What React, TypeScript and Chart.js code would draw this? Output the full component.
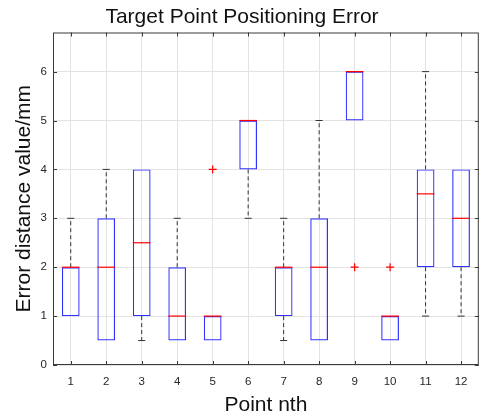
import React, { useEffect, useRef } from 'react';
import { Chart, registerables } from 'chart.js';

Chart.register(...registerables);

const categories = ['1', '2', '3', '4', '5', '6', '7', '8', '9', '10', '11', '12'];
const q1 = [1, 0.5, 1, 0.5, 0.5, 4, 1, 0.5, 5, 0.5, 2, 2];
const medians = [2, 2, 2.5, 1, 1, 5, 2, 2, 6, 1, 3.5, 3];
const q3 = [2, 3, 4, 2, 1, 5, 2, 3, 6, 1, 4, 4];
const whiskerLow = [1, 0.5, 0.5, 0.5, 0.5, 3, 0.5, 0.5, 5, 0.5, 1, 1];
const whiskerHigh = [3, 4, 4, 3, 1, 5, 3, 5, 6, 1, 6, 4];
const outliers: (number | null)[] = [null, null, null, null, 4, null, null, null, 2, 2, null, null];
const yTicks = [0, 1, 2, 3, 4, 5, 6];

const AXIS = '#3a3a3a';
const FONT = '"Liberation Sans", Arial, sans-serif';

const boxPlugin = {
  id: 'boxExtras',
  afterDatasetsDraw(chart: any) {
    const ctx = chart.ctx;
    const y = chart.scales.y;
    const meta = chart.getDatasetMeta(0);
    ctx.save();
    meta.data.forEach((bar: any, i: number) => {
      const cx = bar.x;
      const hw = bar.width / 2;
      const cap = hw / 2.5;
      ctx.strokeStyle = '#333';
      ctx.lineWidth = 1;
      const drawWhisker = (from: number, to: number) => {
        if (from === to) return;
        const y0 = y.getPixelForValue(from);
        const y1 = y.getPixelForValue(to);
        ctx.setLineDash([4, 3]);
        ctx.beginPath();
        ctx.moveTo(cx, y0);
        ctx.lineTo(cx, y1);
        ctx.stroke();
        ctx.setLineDash([]);
        ctx.beginPath();
        ctx.moveTo(cx - cap, y1);
        ctx.lineTo(cx + cap, y1);
        ctx.stroke();
      };
      drawWhisker(q3[i], whiskerHigh[i]);
      drawWhisker(q1[i], whiskerLow[i]);
      const my = y.getPixelForValue(medians[i]);
      ctx.strokeStyle = '#ff0000';
      ctx.lineWidth = 1.2;
      ctx.beginPath();
      ctx.moveTo(cx - hw, my);
      ctx.lineTo(cx + hw, my);
      ctx.stroke();
    });
    ctx.restore();
  },
  afterDraw(chart: any) {
    const ctx = chart.ctx;
    const { left, right, top, bottom } = chart.chartArea;
    const x = chart.scales.x;
    const y = chart.scales.y;
    ctx.save();
    ctx.strokeStyle = AXIS;
    ctx.lineWidth = 1;
    ctx.strokeRect(left + 0.5, top + 0.5, right - left - 1, bottom - top - 1);
    const tl = 4;
    ctx.beginPath();
    categories.forEach((_c, i) => {
      const px = Math.round(x.getPixelForValue(i)) + 0.5;
      ctx.moveTo(px, bottom);
      ctx.lineTo(px, bottom - tl);
      ctx.moveTo(px, top);
      ctx.lineTo(px, top + tl);
    });
    yTicks.forEach((v) => {
      const py = Math.round(y.getPixelForValue(v)) + 0.5;
      ctx.moveTo(left, py);
      ctx.lineTo(left + tl, py);
      ctx.moveTo(right, py);
      ctx.lineTo(right - tl, py);
    });
    ctx.stroke();
    ctx.restore();
  },
};

export default function App() {
  const ref = useRef<HTMLCanvasElement | null>(null);
  useEffect(() => {
    document.body.style.margin = '0';
    const chart = new Chart(ref.current as HTMLCanvasElement, {
      type: 'bar',
      data: {
        labels: categories,
        datasets: [
          {
            type: 'bar',
            data: q1.map((v, i) => [v, q3[i]]) as any,
            backgroundColor: 'rgba(255,255,255,0)',
            borderColor: '#3030ff',
            borderWidth: 1.2,
            borderSkipped: false,
            barPercentage: 0.5,
            categoryPercentage: 1,
          } as any,
          {
            type: 'line',
            data: outliers as any,
            showLine: false,
            pointStyle: 'cross',
            pointRadius: 4,
            pointBorderColor: '#ff0000',
            pointBorderWidth: 1.2,
            pointBackgroundColor: '#ff0000',
          } as any,
        ],
      },
      options: {
        responsive: false,
        animation: false,
        layout: { padding: { top: 0, right: 0, left: 0, bottom: 0 } },
        plugins: {
          legend: { display: false },
          tooltip: { enabled: false },
          title: {
            display: true,
            text: 'Target Point Positioning Error',
            color: '#111',
            font: { family: FONT, size: 21, weight: 'normal' },
            padding: { top: 4.4, bottom: 2.9 },
          },
        },
        scales: {
          x: {
            offset: true,
            grid: { offset: false, color: '#e3e3e3', drawTicks: false },
            border: { display: false },
            ticks: { color: '#262626', font: { family: FONT, size: 11.5 }, padding: 10 },
            title: {
              display: true,
              text: 'Point nth',
              color: '#111',
              font: { family: FONT, size: 21 },
              padding: { top: 0, bottom: 1.8 },
            },
            afterFit: (s: any) => {
              s.height = 55;
              s.paddingLeft = 0;
              s.paddingRight = 0;
            },
          },
          y: {
            min: 0,
            max: 6.8,
            grid: { color: '#e3e3e3', drawTicks: false },
            border: { display: false },
            ticks: {
              stepSize: 1,
              includeBounds: false,
              color: '#262626',
              font: { family: FONT, size: 11.5 },
              padding: 6,
            },
            title: {
              display: true,
              text: 'Error distance value/mm',
              color: '#111',
              font: { family: FONT, size: 21 },
              padding: { top: 12, bottom: 0 },
            },
            afterFit: (s: any) => {
              s.width = 53;
              s.paddingTop = 0;
              s.paddingBottom = 0;
            },
          },
        },
      } as any,
      plugins: [boxPlugin],
    });
    return () => chart.destroy();
  }, []);
  return (
    <div style={{ position: 'absolute', left: 0, top: 0, width: 482, height: 420, overflow: 'hidden' }}>
      <canvas ref={ref} width={484} height={420} style={{ display: 'block' }} />
    </div>
  );
}
